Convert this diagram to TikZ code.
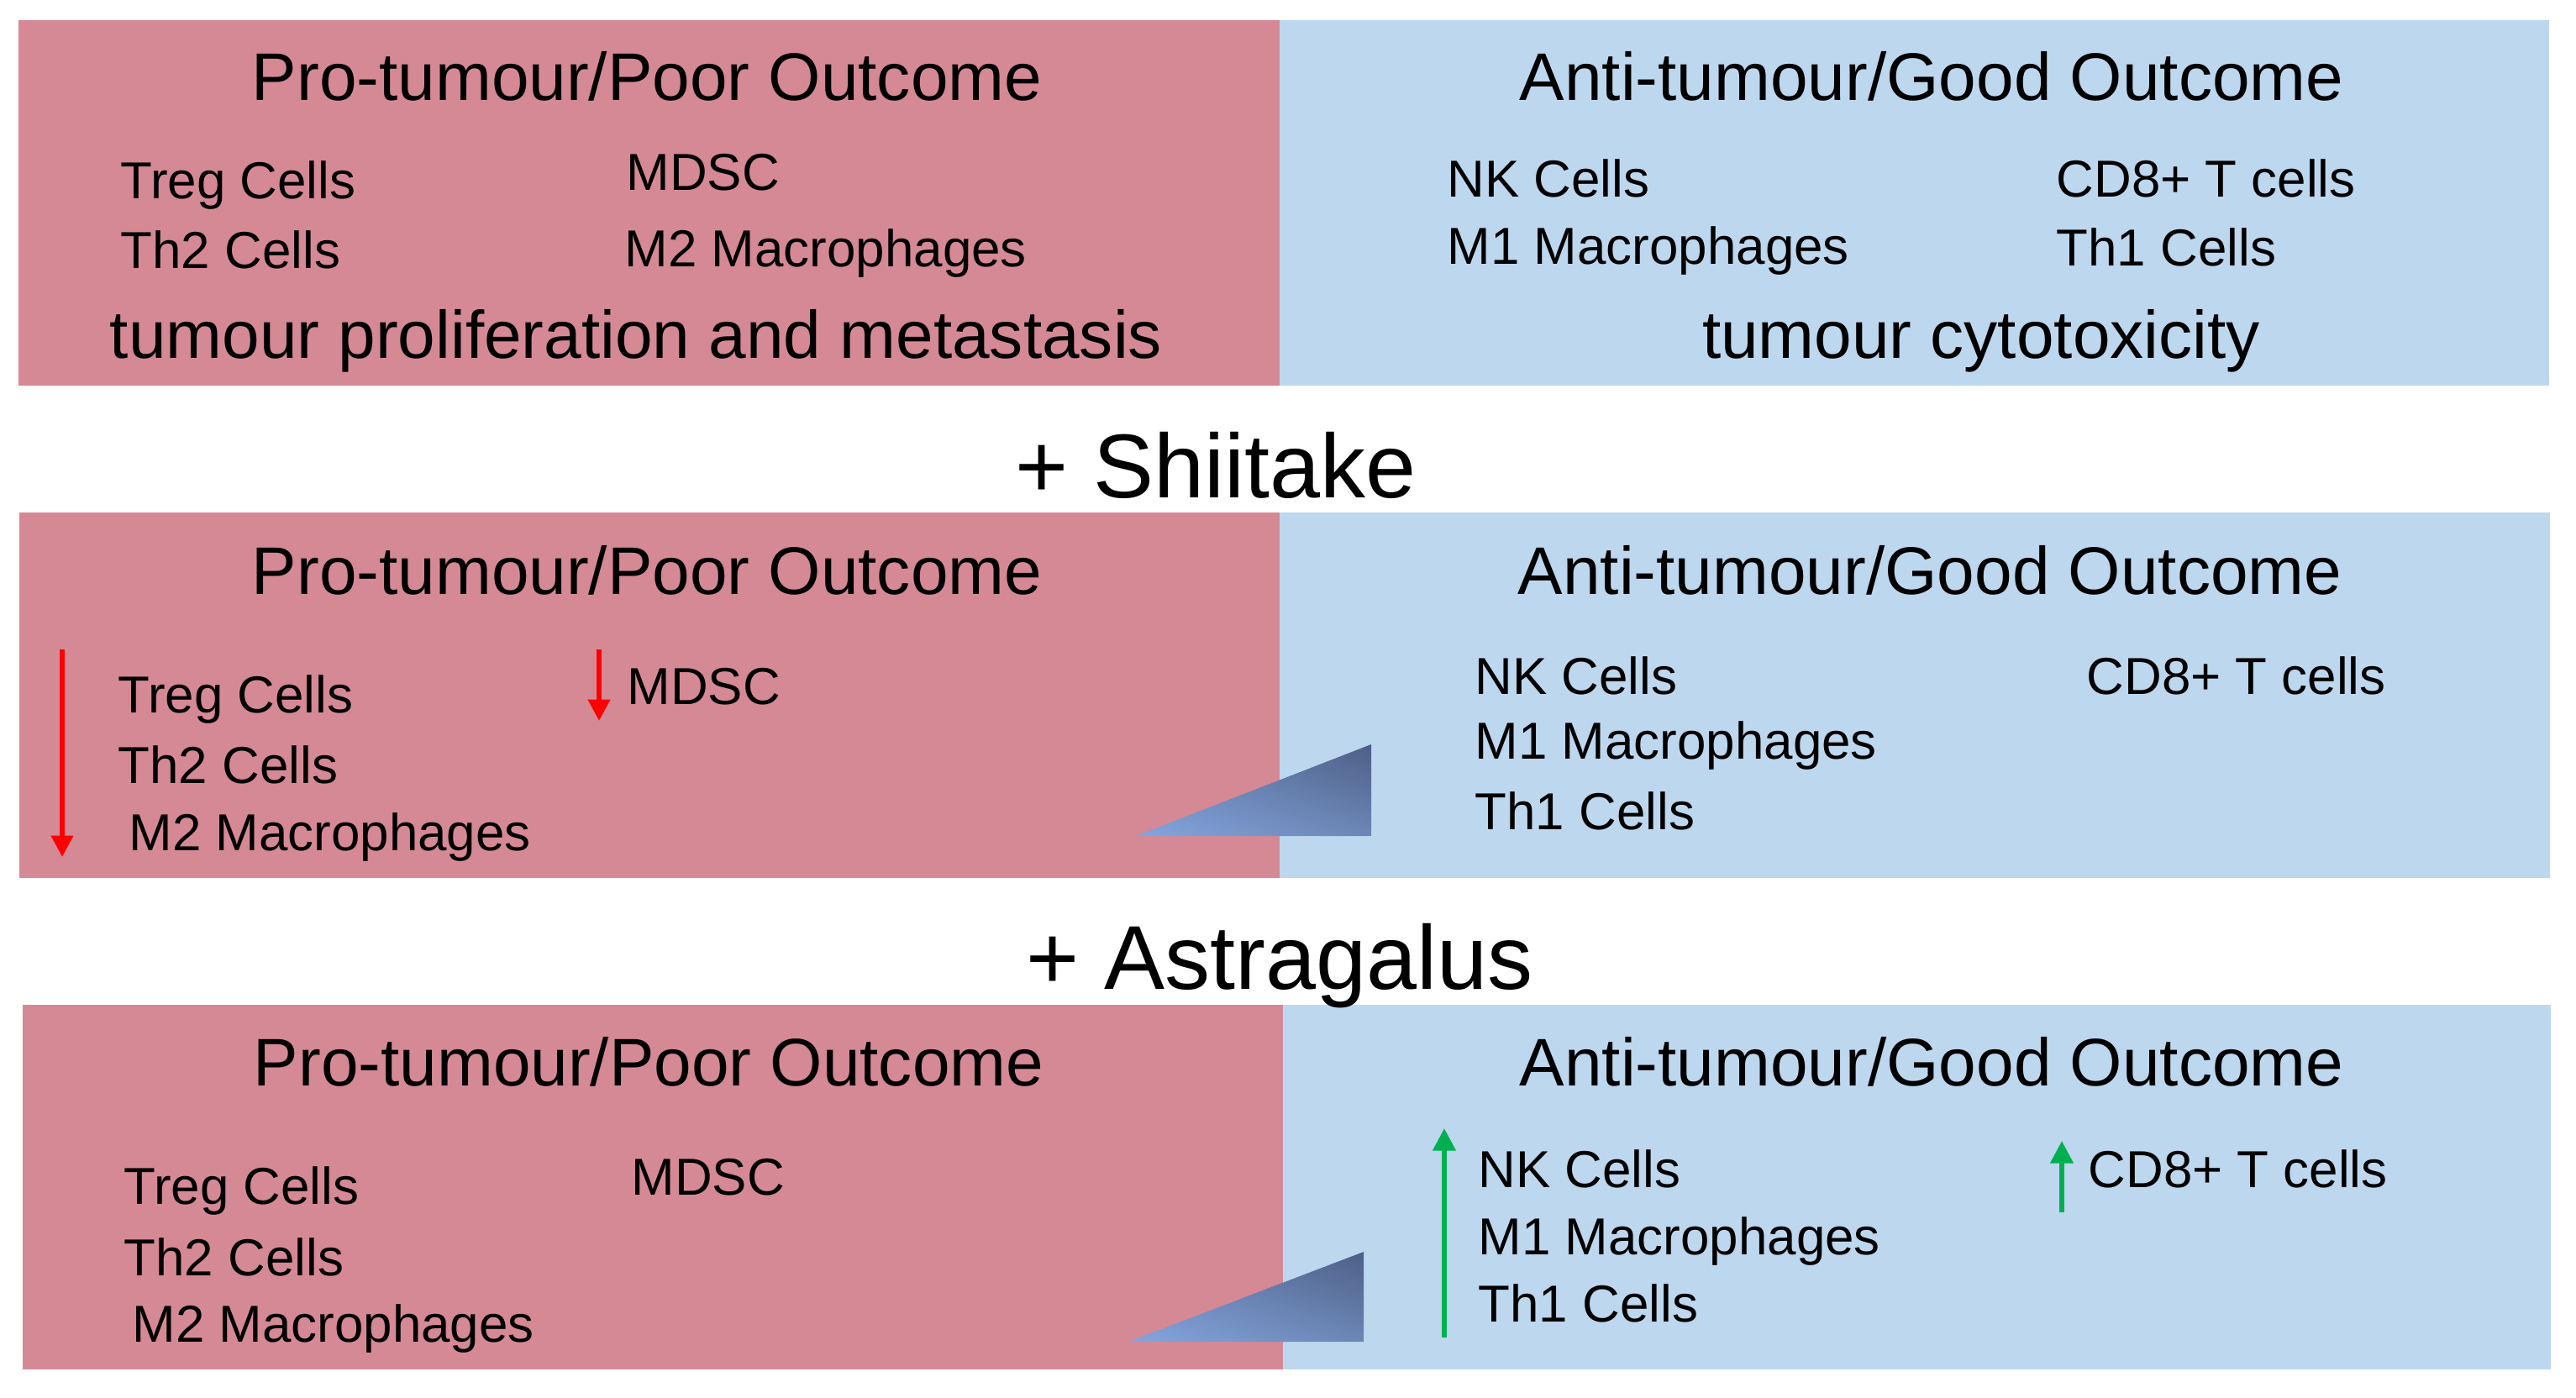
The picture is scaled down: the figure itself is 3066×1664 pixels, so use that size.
\documentclass[tikz,border=0pt]{standalone}
\usepackage{fontspec}
\setmainfont{Liberation Sans}
\usetikzlibrary{arrows.meta,shadings}

\definecolor{probg}{RGB}{213,137,149}
\definecolor{antibg}{RGB}{189,215,238}
\definecolor{wedgelight}{RGB}{132,165,221}
\definecolor{wedgemid}{RGB}{108,134,182}
\definecolor{wedgedark}{RGB}{76,95,134}
\definecolor{upgreen}{RGB}{0,176,80}

\tikzset{
  title/.style={font=\fontsize{22.8}{27}\selectfont, anchor=base, inner sep=0pt},
  item/.style={font=\fontsize{17.6}{21}\selectfont, anchor=base west, inner sep=0pt},
  herb/.style={font=\fontsize{30.7}{36}\selectfont, anchor=base, inner sep=0pt},
  wedge/.style={upper left=wedgemid, lower left=wedgelight, upper right=wedgedark, lower right=wedgemid}
}

\begin{document}
\begin{tikzpicture}[x=0.01cm,y=-0.01cm]
    \useasboundingbox (0,0) rectangle (3066,1664);

    % the three panels
    \fill[probg]  (22,24)    rectangle (1523,459);
    \fill[antibg] (1523,24)  rectangle (3034,459);
    \fill[probg]  (23,610)   rectangle (1523,1045);
    \fill[antibg] (1523,610) rectangle (3035,1045);
    \fill[probg]  (27,1196)  rectangle (1527,1630);
    \fill[antibg] (1527,1196) rectangle (3036,1630);

    % wedges
    \shade[wedge] (1352,995) -- (1632,886) -- (1632,995) -- cycle;
    \shade[wedge] (1343,1597) -- (1623,1490) -- (1623,1597) -- cycle;

    % panel 1
    \node[title] (pro1) at (770,120) {Pro-tumour/Poor Outcome};
    \node[title] (anti1) at (2299,120) {Anti-tumour/Good Outcome};
    \begin{scope}[every node/.style={item}]
      \node (treg1) at (143,237) {Treg Cells};
      \node (th2a) at (143,320) {Th2 Cells};
      \node (mdsc1) at (745,227) {MDSC};
      \node (mtwo1) at (743,318) {M2 Macrophages};
      \node (nk1) at (1722,235) {NK Cells};
      \node (mone1) at (1722,315) {M1 Macrophages};
      \node (cd8a) at (2447,235) {CD8+ T cells};
      \node (th1a) at (2447,317) {Th1 Cells};
    \end{scope}
    \node[title] (prolif) at (757,427) {tumour proliferation and metastasis};
    \node[title] (cyto) at (2358,427) {tumour cytotoxicity};

    \node[herb] (shiitake) at (1447,593) {+ Shiitake};

    % panel 2
    \node[title] (pro2) at (770,707) {Pro-tumour/Poor Outcome};
    \node[title] (anti2) at (2297,707) {Anti-tumour/Good Outcome};
    \begin{scope}[every node/.style={item}]
      \node (treg2) at (140,848) {Treg Cells};
      \node (th2b) at (140,932) {Th2 Cells};
      \node (mtwo2) at (153,1012) {M2 Macrophages};
      \node (mdsc2) at (746,838) {MDSC};
      \node (nk2) at (1755,826) {NK Cells};
      \node (mone2) at (1755,903) {M1 Macrophages};
      \node (th1b) at (1755,987) {Th1 Cells};
      \node (cd8b) at (2483,826) {CD8+ T cells};
    \end{scope}

    \node[herb] (astragalus) at (1523,1177) {+ Astragalus};

    % panel 3
    \node[title] (pro3) at (772,1292) {Pro-tumour/Poor Outcome};
    \node[title] (anti3) at (2299,1292) {Anti-tumour/Good Outcome};
    \begin{scope}[every node/.style={item}]
      \node (treg3) at (147,1433) {Treg Cells};
      \node (th2c) at (147,1518) {Th2 Cells};
      \node (mtwo3) at (157,1597) {M2 Macrophages};
      \node (mdsc3) at (751,1422) {MDSC};
      \node (nk3) at (1759,1413) {NK Cells};
      \node (mone3) at (1759,1493) {M1 Macrophages};
      \node (th1c) at (1759,1573) {Th1 Cells};
      \node (cd8c) at (2485,1413) {CD8+ T cells};
    \end{scope}

    % up / down arrows
    \coordinate (downA) at (74,773);
    \coordinate (downAend) at (74,1020);
    \coordinate (downB) at (713,773);
    \coordinate (downBend) at (713,858);
    \coordinate (upA) at (1719,1592);
    \coordinate (upAend) at (1719,1343);
    \coordinate (upB) at (2454,1443);
    \coordinate (upBend) at (2454,1358);
    \begin{scope}[>={Triangle[length=7.2pt,width=7.2pt]}]
      \draw[->,red,line width=1.7pt] (downA) -- (downAend);
      \draw[->,red,line width=1.7pt] (downB) -- (downBend);
    \end{scope}
    \begin{scope}[>={Triangle[length=7.6pt,width=7.6pt]}]
      \draw[->,upgreen,line width=1.6pt] (upA) -- (upAend);
      \draw[->,upgreen,line width=1.6pt] (upB) -- (upBend);
    \end{scope}
\end{tikzpicture}
\end{document}
